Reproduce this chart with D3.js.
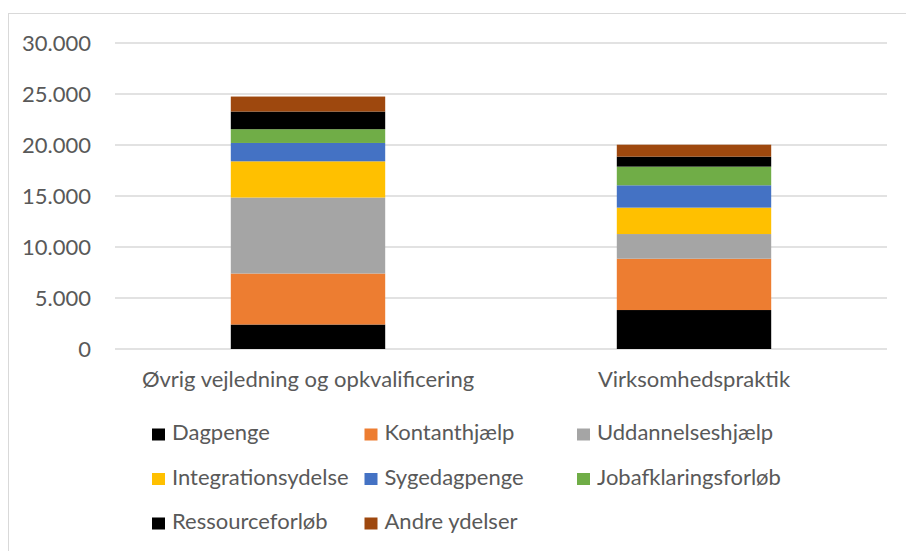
<!DOCTYPE html>
<html>
<head>
<meta charset="utf-8">
<script src="https://cdn.jsdelivr.net/npm/d3@7"></script>
<style>
  html, body { margin: 0; padding: 0; background: #fff; }
  svg text { font-family: Lato, "Open Sans", sans-serif; fill: #595959; }
</style>
</head>
<body>
<div class="chart"></div>
<script>
// Data
var kategorier = ["Øvrig vejledning og opkvalificering", "Virksomhedspraktik"];
var ydelser = ["Dagpenge", "Kontanthjælp", "Uddannelseshjælp", "Integrationsydelse",
               "Sygedagpenge", "Jobafklaringsforløb", "Ressourceforløb", "Andre ydelser"];
var farver = ["#000000", "#ED7D31", "#A5A5A5", "#FFC000", "#4472C4", "#70AD47", "#000000", "#9E480E"];
var ovrigVaerdier = [2400, 5000, 7450, 3550, 1800, 1350, 1730, 1470];
var virksomhedVaerdier = [3820, 5030, 2420, 2590, 2190, 1830, 980, 1170];
var yTicks = [0, 5000, 10000, 15000, 20000, 25000, 30000];

var width = 906, height = 551;
var plot = { left: 115, right: 887, top: 43, bottom: 349 };

var locale = d3.formatLocale({ decimal: ",", thousands: ".", grouping: [3], currency: ["", " kr."] });
var fmt = locale.format(",d");

// Byg tabel til stack
var rows = kategorier.map(function(k, i) {
    var vals = i === 0 ? ovrigVaerdier : virksomhedVaerdier;
    var r = { kategori: k };
    ydelser.forEach(function(y, j) { r[y] = vals[j]; });
    return r;
});
var serier = d3.stack().keys(ydelser)(rows);

var svg = d3.select(".chart").append("svg")
    .attr("width", width)
    .attr("height", height);

// Ramme
svg.append("rect")
    .attr("x", 8.5).attr("y", 13.5)
    .attr("width", 1000).attr("height", 1000)
    .attr("fill", "none")
    .attr("stroke", "#d9d9d9")
    .attr("stroke-width", 1);

var x = d3.scaleBand()
    .domain(kategorier)
    .range([plot.left, plot.right])
    .paddingInner(0.6)
    .paddingOuter(0.3);

var y = d3.scaleLinear()
    .domain([0, 30000])
    .range([plot.bottom, plot.top]);

// Gitterlinjer
svg.append("g")
    .selectAll("line")
    .data(yTicks)
    .enter().append("line")
    .attr("x1", plot.left)
    .attr("x2", plot.right)
    .attr("y1", function(d) { return y(d); })
    .attr("y2", function(d) { return y(d); })
    .attr("stroke", "#d9d9d9")
    .attr("stroke-width", 1.3);

// Y-akse
var yAxis = svg.append("g")
    .attr("transform", "translate(" + (plot.left - 24) + ",0)")
    .call(d3.axisLeft(y).tickValues(yTicks).tickSize(0).tickPadding(0).tickFormat(fmt));
yAxis.select(".domain").remove();
yAxis.selectAll("text")
    .attr("font-size", 22)
    .attr("font-family", null)
    .attr("fill", "#595959")
    .attr("dy", "0.36em");

// Stablede søjler
svg.append("g")
    .selectAll("g")
    .data(serier)
    .enter().append("g")
    .attr("fill", function(d, i) { return farver[i]; })
    .selectAll("rect")
    .data(function(d) { return d; })
    .enter().append("rect")
    .attr("x", function(d) { return x(d.data.kategori); })
    .attr("width", x.bandwidth())
    .attr("y", function(d) { return y(d[1]); })
    .attr("height", function(d) { return y(d[0]) - y(d[1]); });

// X-akse etiketter
var xAxis = svg.append("g")
    .attr("transform", "translate(0," + plot.bottom + ")")
    .call(d3.axisBottom(x).tickSize(0).tickPadding(0));
xAxis.select(".domain").remove();
xAxis.selectAll("text")
    .attr("font-size", 22)
    .attr("font-family", null)
    .attr("fill", "#595959")
    .attr("dy", null)
    .attr("y", 38);

// Forklaring
var legend = svg.append("g");
var items = legend.selectAll("g")
    .data(ydelser)
    .enter().append("g")
    .attr("transform", function(d, i) {
        var col = i % 3, row = Math.floor(i / 3);
        return "translate(" + (152 + col * 212.5) + "," + (428.5 + row * 44.5) + ")";
    });
items.append("rect")
    .attr("width", 13).attr("height", 12)
    .attr("fill", function(d, i) { return farver[i]; });
items.append("text")
    .attr("x", 20)
    .attr("y", 11.5)
    .attr("font-size", 22)
    .text(function(d) { return d; });
</script>
</body>
</html>
